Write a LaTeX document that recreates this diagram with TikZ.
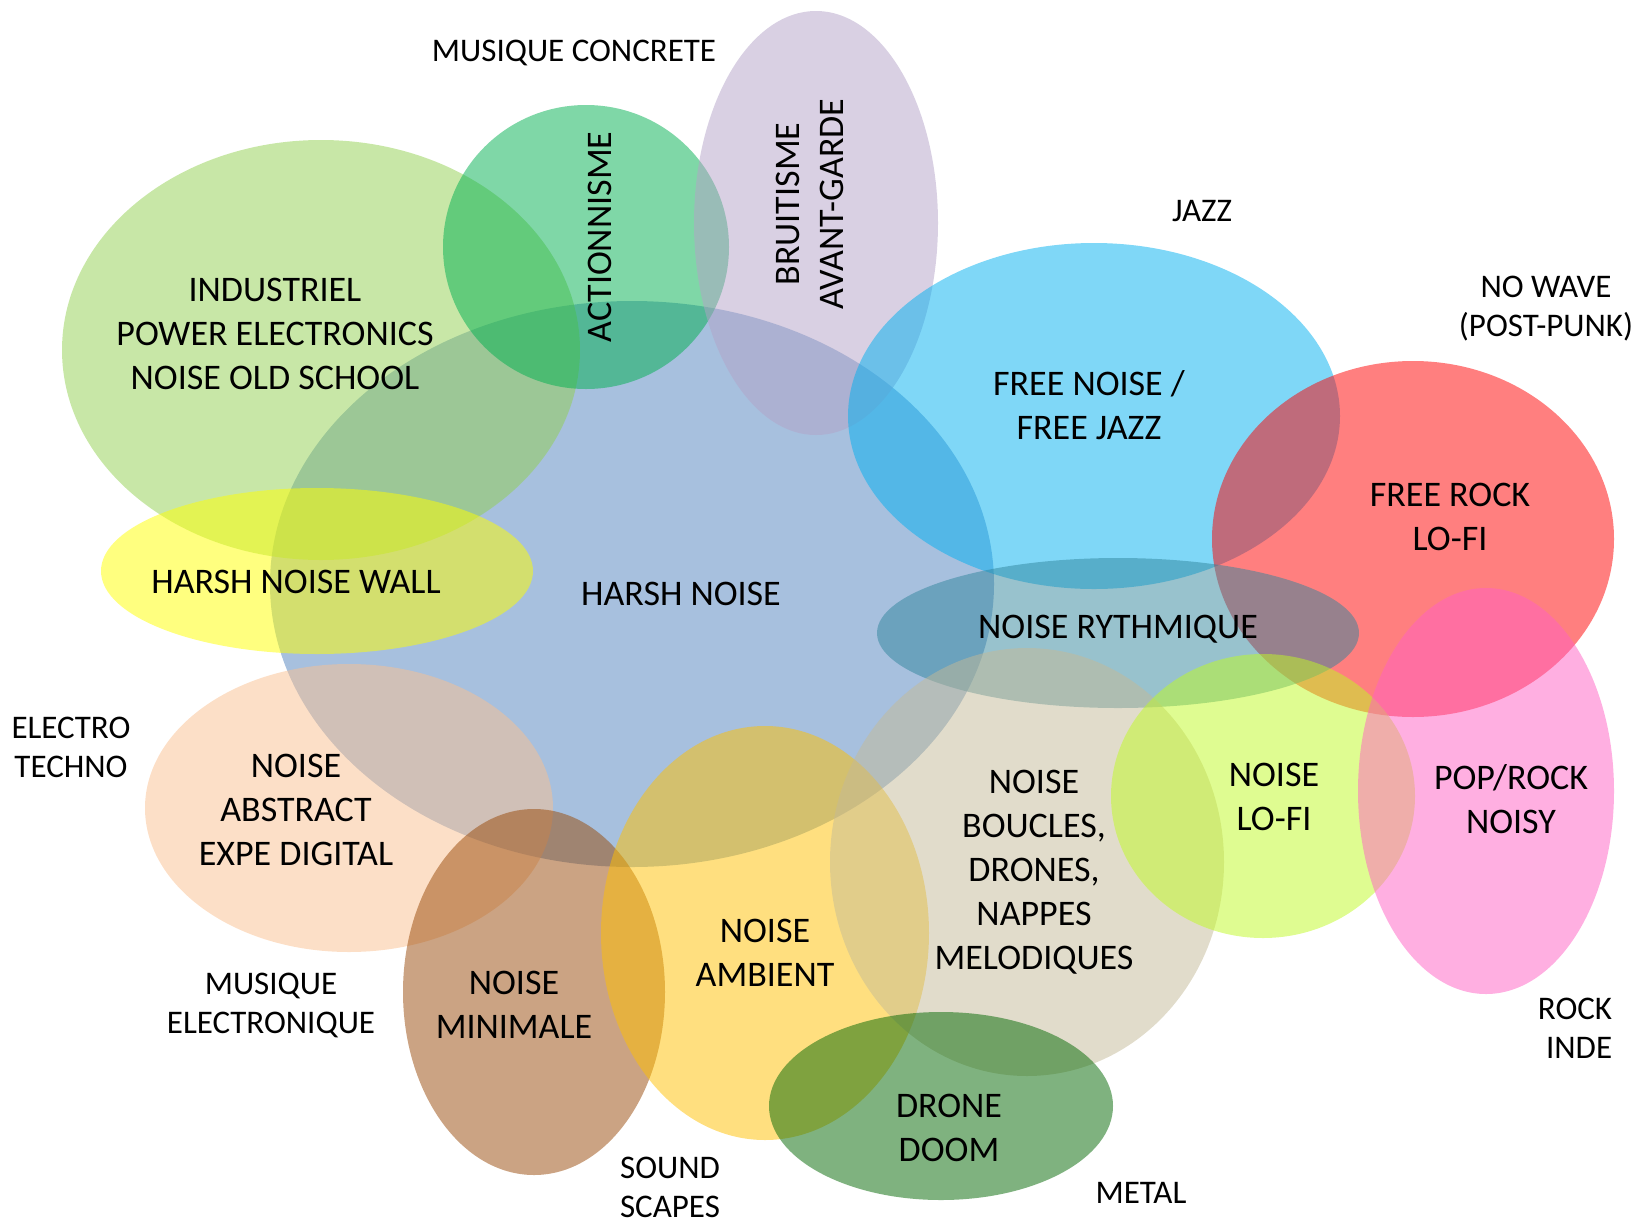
\documentclass[tikz,border=0pt]{standalone}
\usepackage{fontspec}
\setmainfont{Carlito}

\definecolor{genreharsh}{RGB}{79,129,189}
\definecolor{genreindus}{RGB}{146,208,80}
\definecolor{genreaction}{RGB}{0,176,80}
\definecolor{genrebruit}{RGB}{179,162,199}
\definecolor{genrefree}{RGB}{0,176,240}
\definecolor{genrerock}{RGB}{255,0,0}
\definecolor{genrewall}{RGB}{255,255,0}
\definecolor{genrerythm}{RGB}{49,133,156}
\definecolor{genreabstract}{RGB}{250,192,144}
\definecolor{genreminimal}{RGB}{152,72,7}
\definecolor{genreambient}{RGB}{255,192,0}
\definecolor{genreloops}{RGB}{196,186,151}
\definecolor{genrelofi}{RGB}{192,250,35}
\definecolor{genrepop}{RGB}{255,96,196}
\definecolor{genredoom}{RGB}{0,102,0}

\tikzset{
  blob/.style={fill=#1,fill opacity=0.5},
  genre/.style={align=center,inner sep=0pt,font=\fontsize{36}{44}\selectfont},
  scene/.style={align=center,inner sep=0pt,font=\fontsize{33}{39}\selectfont},
}

\begin{document}
\begin{tikzpicture}[x=1pt,y=-1pt]
\useasboundingbox (0,0) rectangle (1641,1224);
% ellipses
\fill[blob=genreharsh] (632,584) ellipse [x radius=362,y radius=283];
\fill[blob=genreindus] (321,350) ellipse [x radius=259,y radius=210];
\fill[blob=genreaction] (586,247) ellipse [x radius=143,y radius=142];
\fill[blob=genrebruit] (816,223) ellipse [x radius=122,y radius=212];
\fill[blob=genrefree] (1094,416) ellipse [x radius=246,y radius=173];
\fill[blob=genrerock] (1413,539) ellipse [x radius=201,y radius=178];
\fill[blob=genrewall] (317,571) ellipse [x radius=216,y radius=83];
\fill[blob=genrerythm] (1118,633) ellipse [x radius=241,y radius=75];
\fill[blob=genreabstract] (349,808) ellipse [x radius=204,y radius=144];
\fill[blob=genreminimal] (534,992) ellipse [x radius=131,y radius=183];
\fill[blob=genreambient] (765,933) ellipse [x radius=164,y radius=207];
\fill[blob=genreloops] (1027,862) ellipse [x radius=197,y radius=214];
\fill[blob=genrelofi] (1263,796) ellipse [x radius=152,y radius=142];
\fill[blob=genrepop] (1486,791) ellipse [x radius=128,y radius=203];
\fill[blob=genredoom] (941,1106) ellipse [x radius=172,y radius=94];
% labels inside
\node[genre] (industriel) at (275,334) {INDUSTRIEL\\POWER ELECTRONICS\\NOISE OLD SCHOOL};
\node[genre,rotate=90] (actionnisme) at (600,237) {ACTIONNISME};
\node[genre,rotate=90] (bruitisme) at (810,204) {BRUITISME\\AVANT-GARDE};
\node[genre] (freenoise) at (1089,405) {FREE NOISE /\\FREE JAZZ};
\node[genre] (freerock) at (1450,517) {FREE ROCK\\LO-FI};
\node[genre] (wall) at (296,582) {HARSH NOISE WALL};
\node[genre] (harsh) at (681,594) {HARSH NOISE};
\node[genre] (rythmique) at (1118,629) {NOISE RYTHMIQUE};
\node[genre] (abstract) at (296,810) {NOISE\\ABSTRACT\\EXPE DIGITAL};
\node[genre] (minimale) at (514,1005) {NOISE\\MINIMALE};
\node[genre] (ambient) at (765,953) {NOISE\\AMBIENT};
\node[genre] (boucles) at (1034,872) {NOISE\\BOUCLES,\\DRONES,\\NAPPES\\MELODIQUES};
\node[genre] (lofi) at (1274,797) {NOISE\\LO-FI};
\node[genre] (poprock) at (1511,799) {POP/ROCK\\NOISY};
\node[genre] (doom) at (949,1128) {DRONE\\DOOM};
% scenes outside
\node[scene] (concrete) at (574,53) {MUSIQUE CONCRETE};
\node[scene] (jazz) at (1202,211) {JAZZ};
\node[scene] (nowave) at (1546,309) {NO WAVE\\(POST-PUNK)};
\node[scene] (techno) at (71,747) {ELECTRO\\TECHNO};
\node[scene] (electro) at (271,1005) {MUSIQUE\\ELECTRONIQUE};
\node[scene] (scapes) at (670,1187) {SOUND\\SCAPES};
\node[scene] (metal) at (1141,1193) {METAL};
\node[scene,align=right] (inde) at (1575,1028) {ROCK\\INDE};
\end{tikzpicture}
\end{document}
